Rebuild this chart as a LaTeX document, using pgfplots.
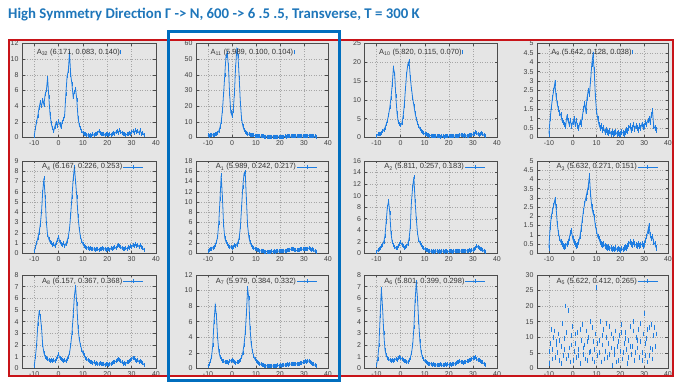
\documentclass[border=0pt]{standalone}
\usepackage{fontspec}
\setmainfont{Liberation Sans}
\newfontfamily\titlefont{Carlito}
\usepackage{pgfplots}
\pgfplotsset{compat=1.18}
\definecolor{dat}{RGB}{30,125,225}
\definecolor{bggray}{RGB}{229,229,229}
\definecolor{titleblue}{RGB}{30,118,186}
\definecolor{redbox}{RGB}{200,20,25}
\definecolor{bluebox}{RGB}{0,110,190}
\pgfplotsset{
  panel/.style={
    scale only axis, anchor=south west,
    xmin=-15, xmax=40, xtick={-10,0,10,20,30,40}, ymin=0,
    grid=major,
    major grid style={dash pattern=on 1pt off 1.5pt, color=black!35, line width=0.35pt},
    axis line style={black!70, line width=0.5pt},
    tick style={black!70, line width=0.4pt},
    major tick length=2.5pt, tick align=inside,
    ticklabel style={font=\fontsize{7}{8}\selectfont, text=black!75},
    /pgf/number format/assume math mode=true,
    xticklabel style={yshift=0.5pt},
    legend plot pos=right,
    legend style={draw=none, fill=none, inner sep=0pt, font=\fontsize{7.5}{8}\selectfont, text=black!80,
      legend cell align=left, nodes={inner sep=0.5pt}, /tikz/every even column/.append style={column sep=3pt}},
  },
  toprow/.style={legend style={at={(rel axis cs:0.105,0.905)}, anchor=west},
    legend image code/.code={\draw[dat, line width=0.5pt] (12pt,-2pt) -- (12pt,2pt);}},
  lowrow/.style={legend style={at={(rel axis cs:0.145,0.935)}, anchor=west},
    legend image code/.code={\draw[dat, line width=0.6pt] (0pt,0pt) -- (20pt,0pt); \draw[dat, line width=0.5pt] (10pt,-1.8pt) -- (10pt,1.8pt);}},
  spec/.style={dat, line width=0.8pt, mark=|, mark size=2pt, mark options={line width=0.45pt}},
  specn/.style={dat, line width=0.8pt, mark=|, mark size=2.8pt, mark options={line width=0.45pt}},
}
\begin{document}
\begin{tikzpicture}[x=1pt,y=1pt]
\path[use as bounding box] (0pt,0pt) rectangle (681pt,383pt);
\fill[bggray] (9pt,7pt) rectangle (673pt,343pt);
\node[anchor=base west, inner sep=0pt, text=titleblue, font=\titlefont\bfseries\fontsize{14.8}{17}\selectfont] at (8pt,364pt) {High Symmetry Direction Γ -> N, 600 -> 6 .5 .5, Transverse, T = 300 K};

% ---------------- Row 1 ----------------
\begin{axis}[panel, toprow, at={(22pt,245.5pt)}, width=134pt, height=94pt, ymax=12, ytick={0,2,...,12}]
\addplot[spec] coordinates {(-10,0.2)(-9.5,1.2)(-9,2.0)(-8.5,2.8)(-8,3.8)(-7.5,4.5)(-7,4.0)(-6.5,4.8)(-6,4.2)(-5.5,5.5)(-5,6.0)(-4.5,7.6)(-4,5.2)(-3.5,3.0)(-3,1.8)(-2.5,1.2)(-2,0.8)(-1.5,1.4)(-1,1.9)(-0.5,1.5)(0,2.1)(0.5,1.7)(1,1.3)(1.5,2.0)(2,2.3)(2.5,2.8)(3,5.5)(3.5,7.8)(4,8.5)(4.5,10.8)(5,8.0)(5.5,6.8)(6,5.2)(6.5,5.8)(7,6.2)(7.5,4.8)(8,2.5)(8.5,1.6)(9,1.2)(9.5,0.8)(10,0.6)(10.5,0.5)(11,0.4)(11.5,0.3)(12,0.35)(12.5,0.2)(13,0.3)(13.5,0.25)(14,0.4)(14.5,0.3)(15,0.45)(15.5,0.5)(16,0.6)(16.5,0.8)(17,0.6)(17.5,0.5)(18,0.4)(18.5,0.5)(19,0.3)(19.5,0.4)(20,0.5)(20.5,0.3)(21,0.4)(21.5,0.35)(22,0.5)(22.5,0.6)(23,0.5)(23.5,0.7)(24,0.8)(24.5,0.6)(25,0.9)(25.5,0.7)(26,0.6)(26.5,0.5)(27,0.4)(27.5,0.3)(28,0.4)(28.5,0.5)(29,0.6)(29.5,0.5)(30,0.7)(30.5,0.8)(31,0.6)(31.5,0.9)(32,0.7)(32.5,0.8)(33,0.6)(33.5,0.9)(34,0.5)(34.5,0.6)(35,0.3)};
\addlegendentry{A\textsubscript{32} (6.171, 0.083, 0.140)}
\end{axis}

\begin{axis}[panel, toprow, at={(196pt,245.5pt)}, width=132pt, height=94pt, ymax=60, ytick={0,10,...,60}]
\addplot[spec] coordinates {(-10,1.5)(-9.5,1.2)(-9,1.6)(-8.5,1.3)(-8,1.8)(-7.5,1.5)(-7,2.0)(-6.5,2.5)(-6,3.0)(-5.5,4.2)(-5,6.5)(-4.5,10)(-4,17)(-3.5,28)(-3,40)(-2.5,52)(-2,54)(-1.5,46)(-1,28)(-0.5,16)(0,14)(0.5,17)(1,28)(1.5,45)(2,56)(2.5,52)(3,38)(3.5,22)(4,12)(4.5,7.5)(5,5.0)(5.5,3.8)(6,3.0)(6.5,2.4)(7,2.0)(7.5,1.8)(8,1.5)(8.5,1.4)(9,1.3)(9.5,1.2)(10,1.1)(10.5,1.0)(11,0.9)(11.5,0.8)(12,0.8)(12.5,0.7)(13,0.7)(13.5,0.6)(14,0.6)(14.5,0.5)(15,0.6)(15.5,0.5)(16,0.5)(16.5,0.4)(17,0.5)(17.5,0.5)(18,0.4)(18.5,0.5)(19,0.5)(19.5,0.4)(20,0.5)(20.5,0.6)(21,0.5)(21.5,0.6)(22,0.7)(22.5,0.6)(23,0.7)(23.5,0.8)(24,0.9)(24.5,0.8)(25,1.0)(25.5,0.9)(26,0.8)(26.5,0.9)(27,0.8)(27.5,0.7)(28,0.8)(28.5,0.9)(29,1.0)(29.5,0.9)(30,1.1)(30.5,1.2)(31,1.0)(31.5,1.1)(32,1.2)(32.5,1.0)(33,0.9)(33.5,1.0)(34,0.8)(34.5,0.7)(35,0.6)};
\addlegendentry{A\textsubscript{11} (5.989, 0.100, 0.104)}
\end{axis}

\begin{axis}[panel, toprow, at={(364.5pt,245.5pt)}, width=132.5pt, height=94pt, ymax=25, ytick={0,5,...,25}]
\addplot[spec] coordinates {(-10,0.4)(-9.5,0.8)(-9,1.0)(-8.5,0.9)(-8,1.3)(-7.5,1.6)(-7,2.0)(-6.5,2.6)(-6,3.5)(-5.5,4.5)(-5,6.0)(-4.5,8.0)(-4,10.5)(-3.5,14)(-3,18.5)(-2.5,17)(-2,11)(-1.5,6.5)(-1,4.2)(-0.5,3.5)(0,3.2)(0.5,3.8)(1,5.5)(1.5,8.5)(2,13)(2.5,17)(3,19.5)(3.5,20.3)(4,16)(4.5,13)(5,10.5)(5.5,8.5)(6,6.5)(6.5,5.0)(7,3.8)(7.5,3.0)(8,2.3)(8.5,1.8)(9,1.5)(9.5,1.2)(10,1.0)(10.5,0.8)(11,0.7)(11.5,0.6)(12,0.5)(12.5,0.5)(13,0.4)(13.5,0.4)(14,0.3)(14.5,0.35)(15,0.3)(15.5,0.35)(16,0.3)(16.5,0.25)(17,0.3)(17.5,0.3)(18,0.25)(18.5,0.3)(19,0.35)(19.5,0.3)(20,0.3)(20.5,0.35)(21,0.4)(21.5,0.3)(22,0.35)(22.5,0.4)(23,0.45)(23.5,0.4)(24,0.5)(24.5,0.6)(25,0.7)(25.5,0.6)(26,0.5)(26.5,0.6)(27,0.5)(27.5,0.4)(28,0.5)(28.5,0.6)(29,0.7)(29.5,0.6)(30,0.8)(30.5,1.0)(31,1.4)(31.5,1.2)(32,0.9)(32.5,0.7)(33,0.8)(33.5,1.1)(34,0.9)(34.5,0.6)(35,0.4)};
\addlegendentry{A\textsubscript{10} (5.820, 0.115, 0.070)}
\end{axis}

\begin{axis}[panel, toprow, at={(537pt,245.5pt)}, width=131pt, height=94pt, ymax=5, ytick={0,0.5,...,5}]
\addplot[specn] coordinates {(-10,0.2)(-9.5,1.0)(-9,1.6)(-8.5,2.1)(-8,2.5)(-7.5,2.9)(-7,2.2)(-6.5,1.8)(-6,1.5)(-5.5,1.3)(-5,1.2)(-4.5,0.9)(-4,0.8)(-3.5,0.7)(-3,0.6)(-2.5,1.1)(-2,0.9)(-1.5,0.7)(-1,0.9)(-0.5,0.6)(0,0.8)(0.5,1.0)(1,0.7)(1.5,0.9)(2,0.6)(2.5,0.5)(3,0.8)(3.5,0.7)(4,1.1)(4.5,1.5)(5,1.8)(5.5,1.4)(6,2.1)(6.5,2.5)(7,2.3)(7.5,3.0)(8,3.9)(8.5,4.4)(9,3.6)(9.5,2.2)(10,1.4)(10.5,1.0)(11,0.7)(11.5,0.5)(12,0.6)(12.5,0.4)(13,0.5)(13.5,0.3)(14,0.4)(14.5,0.3)(15,0.25)(15.5,0.35)(16,0.2)(16.5,0.3)(17,0.2)(17.5,0.25)(18,0.3)(18.5,0.2)(19,0.25)(19.5,0.15)(20,0.2)(20.5,0.3)(21,0.25)(21.5,0.2)(22,0.3)(22.5,0.4)(23,0.35)(23.5,0.5)(24,0.6)(24.5,0.4)(25,0.5)(25.5,0.7)(26,0.45)(26.5,0.6)(27,0.5)(27.5,0.4)(28,0.6)(28.5,0.5)(29,0.7)(29.5,0.55)(30,0.6)(30.5,0.8)(31,0.7)(31.5,0.9)(32,1.0)(32.5,0.8)(33,1.2)(33.5,1.4)(34,0.6)(34.5,0.5)(35,0.4)};
\addlegendentry{A\textsubscript{9} (5.642, 0.128, 0.038)}
\end{axis}

% ---------------- Row 2 ----------------
\begin{axis}[panel, lowrow, at={(22pt,129.7pt)}, width=134pt, height=92.3pt, ymax=9, ytick={0,1,...,9}]
\addplot[spec] coordinates {(-10,0.2)(-9.5,0.6)(-9,1.0)(-8.5,1.5)(-8,2.0)(-7.5,2.8)(-7,4.0)(-6.5,6.0)(-6,7.3)(-5.5,5.5)(-5,3.0)(-4.5,1.8)(-4,1.4)(-3.5,1.1)(-3,1.0)(-2.5,0.8)(-2,0.9)(-1.5,0.7)(-1,1.0)(-0.5,1.3)(0,1.6)(0.5,1.1)(1,0.9)(1.5,0.8)(2,1.0)(2.5,0.7)(3,0.9)(3.5,1.2)(4,1.6)(4.5,2.4)(5,3.8)(5.5,5.5)(6,7.2)(6.5,8.4)(7,7.0)(7.5,5.5)(8,3.6)(8.5,2.4)(9,1.6)(9.5,1.2)(10,0.9)(10.5,0.7)(11,0.6)(11.5,0.5)(12,0.55)(12.5,0.45)(13,0.5)(13.5,0.4)(14,0.45)(14.5,0.4)(15,0.35)(15.5,0.45)(16,0.4)(16.5,0.35)(17,0.45)(17.5,0.4)(18,0.5)(18.5,0.4)(19,0.45)(19.5,0.35)(20,0.4)(20.5,0.45)(21,0.35)(21.5,0.5)(22,0.45)(22.5,0.55)(23,0.6)(23.5,0.5)(24,0.7)(24.5,0.8)(25,0.75)(25.5,0.6)(26,0.5)(26.5,0.45)(27,0.4)(27.5,0.5)(28,0.45)(28.5,0.6)(29,0.55)(29.5,0.7)(30,0.6)(30.5,0.8)(31,0.7)(31.5,0.9)(32,0.75)(32.5,0.8)(33,0.65)(33.5,0.8)(34,0.6)(34.5,0.5)(35,0.35)};
\addlegendentry{A\textsubscript{4} (6.167, 0.226, 0.253)}
\end{axis}

\begin{axis}[panel, lowrow, at={(196pt,129.7pt)}, width=132pt, height=92.3pt, ymax=18, ytick={0,2,...,18}]
\addplot[spec] coordinates {(-10,0.5)(-9.5,0.6)(-9,0.8)(-8.5,0.9)(-8,1.1)(-7.5,1.3)(-7,1.6)(-6.5,2.2)(-6,3.2)(-5.5,6.0)(-5,10.5)(-4.5,15.2)(-4,11)(-3.5,5.5)(-3,3.0)(-2.5,2.2)(-2,1.8)(-1.5,1.5)(-1,1.3)(-0.5,1.2)(0,1.0)(0.5,1.3)(1,1.6)(1.5,1.4)(2,1.7)(2.5,2.2)(3,3.0)(3.5,5.2)(4,9.0)(4.5,13)(5,15.5)(5.5,15.8)(6,10.5)(6.5,5.5)(7,3.2)(7.5,2.2)(8,1.6)(8.5,1.3)(9,1.1)(9.5,0.9)(10,0.8)(10.5,0.7)(11,0.6)(11.5,0.5)(12,0.5)(12.5,0.4)(13,0.4)(13.5,0.35)(14,0.3)(14.5,0.35)(15,0.3)(15.5,0.35)(16,0.3)(16.5,0.4)(17,0.35)(17.5,0.4)(18,0.35)(18.5,0.4)(19,0.45)(19.5,0.4)(20,0.5)(20.5,0.45)(21,0.4)(21.5,0.5)(22,0.45)(22.5,0.5)(23,0.55)(23.5,0.6)(24,0.7)(24.5,0.8)(25,0.9)(25.5,0.8)(26,0.7)(26.5,0.6)(27,0.55)(27.5,0.6)(28,0.7)(28.5,0.8)(29,0.75)(29.5,0.8)(30,0.9)(30.5,0.85)(31,0.8)(31.5,0.9)(32,1.0)(32.5,0.8)(33,0.7)(33.5,0.9)(34,0.6)(34.5,0.4)(35,0.3)};
\addlegendentry{A\textsubscript{1} (5.989, 0.242, 0.217)}
\end{axis}

\begin{axis}[panel, lowrow, at={(364.5pt,129.7pt)}, width=132.5pt, height=92.3pt, ymax=16, ytick={0,2,...,16}]
\addplot[spec] coordinates {(-10,0.3)(-9.5,0.5)(-9,0.8)(-8.5,1.0)(-8,1.2)(-7.5,1.5)(-7,2.0)(-6.5,3.0)(-6,5.5)(-5.5,8.0)(-5,9.0)(-4.5,7.0)(-4,3.5)(-3.5,2.0)(-3,1.5)(-2.5,1.1)(-2,0.9)(-1.5,1.0)(-1,1.3)(-0.5,1.6)(0,1.9)(0.5,1.5)(1,1.3)(1.5,1.0)(2,1.1)(2.5,1.3)(3,1.6)(3.5,2.5)(4,4.5)(4.5,9.0)(5,11.5)(5.5,13.2)(6,9.0)(6.5,6.0)(7,3.5)(7.5,2.3)(8,1.8)(8.5,1.4)(9,1.1)(9.5,0.9)(10,0.7)(10.5,0.6)(11,0.5)(11.5,0.4)(12,0.4)(12.5,0.35)(13,0.3)(13.5,0.35)(14,0.3)(14.5,0.4)(15,0.35)(15.5,0.3)(16,0.35)(16.5,0.3)(17,0.4)(17.5,0.35)(18,0.3)(18.5,0.35)(19,0.4)(19.5,0.3)(20,0.35)(20.5,0.4)(21,0.35)(21.5,0.3)(22,0.4)(22.5,0.35)(23,0.4)(23.5,0.45)(24,0.4)(24.5,0.35)(25,0.4)(25.5,0.45)(26,0.4)(26.5,0.35)(27,0.4)(27.5,0.45)(28,0.4)(28.5,0.5)(29,0.45)(29.5,0.5)(30,0.55)(30.5,0.7)(31,1.0)(31.5,1.3)(32,1.1)(32.5,0.9)(33,0.8)(33.5,0.7)(34,0.6)(34.5,0.4)(35,0.3)};
\addlegendentry{A\textsubscript{2} (5.811, 0.257, 0.183)}
\end{axis}

\begin{axis}[panel, lowrow, at={(537pt,129.7pt)}, width=131pt, height=92.3pt, ymax=5, ytick={0,0.5,...,5}]
\addplot[specn] coordinates {(-10,0.3)(-9.5,1.4)(-9,2.0)(-8.5,2.3)(-8,2.6)(-7.5,2.9)(-7,2.5)(-6.5,1.6)(-6,1.1)(-5.5,0.8)(-5,0.6)(-4.5,0.5)(-4,0.4)(-3.5,0.35)(-3,0.4)(-2.5,0.5)(-2,0.6)(-1.5,0.8)(-1,1.1)(-0.5,1.2)(0,0.8)(0.5,0.6)(1,0.5)(1.5,0.4)(2,0.45)(2.5,0.6)(3,0.9)(3.5,1.3)(4,1.8)(4.5,2.3)(5,2.7)(5.5,3.0)(6,3.3)(6.5,3.6)(7,4.2)(7.5,3.2)(8,2.5)(8.5,2.2)(9,2.0)(9.5,1.5)(10,1.2)(10.5,0.9)(11,0.8)(11.5,0.6)(12,0.5)(12.5,0.45)(13,0.5)(13.5,0.4)(14,0.35)(14.5,0.3)(15,0.35)(15.5,0.25)(16,0.3)(16.5,0.2)(17,0.25)(17.5,0.2)(18,0.3)(18.5,0.2)(19,0.25)(19.5,0.2)(20,0.15)(20.5,0.25)(21,0.2)(21.5,0.3)(22,0.35)(22.5,0.3)(23,0.4)(23.5,0.5)(24,0.6)(24.5,0.5)(25,0.45)(25.5,0.6)(26,0.5)(26.5,0.45)(27,0.4)(27.5,0.5)(28,0.4)(28.5,0.45)(29,0.5)(29.5,0.4)(30,0.5)(30.5,0.7)(31,0.9)(31.5,1.2)(32,1.5)(32.5,1.0)(33,0.8)(33.5,0.9)(34,0.6)(34.5,0.5)(35,0.3)};
\addlegendentry{A\textsubscript{3} (5.632, 0.271, 0.151)}
\end{axis}

% ---------------- Row 3 ----------------
\begin{axis}[panel, lowrow, at={(22pt,14.7pt)}, width=134pt, height=93.3pt, ymax=8, ytick={0,1,...,8}]
\addplot[spec] coordinates {(-10,0.2)(-9.5,1.0)(-9,2.0)(-8.5,3.8)(-8,4.8)(-7.5,4.5)(-7,3.5)(-6.5,2.0)(-6,1.3)(-5.5,1.0)(-5,0.9)(-4.5,0.8)(-4,0.7)(-3.5,0.6)(-3,0.7)(-2.5,0.6)(-2,0.7)(-1.5,0.6)(-1,0.8)(-0.5,1.0)(0,1.2)(0.5,0.9)(1,0.8)(1.5,0.7)(2,0.6)(2.5,0.7)(3,0.6)(3.5,0.8)(4,1.0)(4.5,1.3)(5,2.0)(5.5,3.0)(6,4.5)(6.5,6.2)(7,7.0)(7.5,5.5)(8,3.5)(8.5,2.5)(9,2.0)(9.5,1.6)(10,1.3)(10.5,1.1)(11,0.9)(11.5,0.8)(12,0.7)(12.5,0.6)(13,0.55)(13.5,0.5)(14,0.45)(14.5,0.5)(15,0.4)(15.5,0.45)(16,0.4)(16.5,0.35)(17,0.45)(17.5,0.4)(18,0.35)(18.5,0.4)(19,0.3)(19.5,0.35)(20,0.4)(20.5,0.3)(21,0.35)(21.5,0.4)(22,0.45)(22.5,0.5)(23,0.55)(23.5,0.6)(24,0.7)(24.5,0.8)(25,0.75)(25.5,0.6)(26,0.5)(26.5,0.4)(27,0.45)(27.5,0.4)(28,0.5)(28.5,0.55)(29,0.6)(29.5,0.7)(30,0.8)(30.5,0.9)(31,0.85)(31.5,0.7)(32,0.6)(32.5,0.7)(33,0.55)(33.5,0.6)(34,0.5)(34.5,0.45)(35,0.3)};
\addlegendentry{A\textsubscript{8} (6.157, 0.367, 0.368)}
\end{axis}

\begin{axis}[panel, lowrow, at={(196pt,14.7pt)}, width=132pt, height=93.3pt, ymax=12, ytick={0,2,...,12}]
\addplot[spec] coordinates {(-10,0.3)(-9.5,0.5)(-9,0.9)(-8.5,1.5)(-8,3.0)(-7.5,6.0)(-7,8.0)(-6.5,6.8)(-6,4.0)(-5.5,2.2)(-5,1.5)(-4.5,1.2)(-4,1.0)(-3.5,0.9)(-3,0.8)(-2.5,0.75)(-2,0.8)(-1.5,0.7)(-1,0.9)(-0.5,1.0)(0,1.1)(0.5,0.9)(1,0.8)(1.5,0.7)(2,0.75)(2.5,0.8)(3,0.9)(3.5,1.1)(4,1.4)(4.5,2.0)(5,3.0)(5.5,4.5)(6,7.0)(6.5,10.3)(7,9.0)(7.5,5.2)(8,3.2)(8.5,2.2)(9,1.6)(9.5,1.2)(10,1.0)(10.5,0.8)(11,0.7)(11.5,0.6)(12,0.5)(12.5,0.45)(13,0.4)(13.5,0.35)(14,0.3)(14.5,0.35)(15,0.3)(15.5,0.3)(16,0.25)(16.5,0.3)(17,0.3)(17.5,0.35)(18,0.3)(18.5,0.35)(19,0.4)(19.5,0.35)(20,0.4)(20.5,0.35)(21,0.4)(21.5,0.45)(22,0.4)(22.5,0.45)(23,0.5)(23.5,0.45)(24,0.5)(24.5,0.55)(25,0.6)(25.5,0.5)(26,0.55)(26.5,0.5)(27,0.6)(27.5,0.55)(28,0.6)(28.5,0.7)(29,0.65)(29.5,0.75)(30,0.8)(30.5,0.9)(31,0.85)(31.5,1.0)(32,0.9)(32.5,0.8)(33,0.7)(33.5,0.6)(34,0.5)(34.5,0.4)(35,0.3)};
\addlegendentry{A\textsubscript{7} (5.979, 0.384, 0.332)}
\end{axis}

\begin{axis}[panel, lowrow, at={(364.5pt,14.7pt)}, width=132.5pt, height=93.3pt, ymax=8, ytick={0,1,...,8}]
\addplot[spec] coordinates {(-10,0.3)(-9.5,0.8)(-9,2.0)(-8.5,4.5)(-8,6.8)(-7.5,5.2)(-7,3.0)(-6.5,1.6)(-6,1.1)(-5.5,0.9)(-5,0.8)(-4.5,0.7)(-4,0.6)(-3.5,0.7)(-3,0.6)(-2.5,0.7)(-2,0.8)(-1.5,0.7)(-1,0.9)(-0.5,1.0)(0,0.9)(0.5,0.8)(1,0.7)(1.5,0.6)(2,0.6)(2.5,0.5)(3,0.55)(3.5,0.7)(4,0.9)(4.5,1.3)(5,2.0)(5.5,3.5)(6,5.8)(6.5,7.4)(7,6.0)(7.5,4.0)(8,2.3)(8.5,1.4)(9,1.0)(9.5,0.8)(10,0.6)(10.5,0.5)(11,0.45)(11.5,0.4)(12,0.35)(12.5,0.4)(13,0.3)(13.5,0.35)(14,0.3)(14.5,0.25)(15,0.3)(15.5,0.25)(16,0.3)(16.5,0.35)(17,0.3)(17.5,0.25)(18,0.3)(18.5,0.35)(19,0.3)(19.5,0.35)(20,0.3)(20.5,0.35)(21,0.3)(21.5,0.4)(22,0.35)(22.5,0.4)(23,0.45)(23.5,0.5)(24,0.55)(24.5,0.6)(25,0.55)(25.5,0.5)(26,0.45)(26.5,0.5)(27,0.55)(27.5,0.6)(28,0.65)(28.5,0.7)(29,0.75)(29.5,0.8)(30,0.85)(30.5,0.9)(31,0.95)(31.5,0.8)(32,0.7)(32.5,0.75)(33,0.6)(33.5,0.55)(34,0.5)(34.5,0.4)(35,0.3)};
\addlegendentry{A\textsubscript{6} (5.801, 0.399, 0.298)}
\end{axis}

\begin{axis}[panel, lowrow, at={(537pt,14.7pt)}, width=131pt, height=93.3pt, ymax=30, ytick={0,5,...,30}]
\addplot[dat, only marks, mark=|, mark size=2.4pt, mark options={line width=0.55pt}] coordinates {(-10,1.5)(-9.5,8.0)(-9,12.5)(-8.5,6.0)(-8,10.0)(-7.5,3.5)(-7,8.5)(-6.5,5.0)(-6,11.0)(-5.5,2.5)(-5,7.0)(-4.5,14.5)(-4,4.0)(-3.5,9.5)(-3,20.0)(-2.5,3.0)(-2,18.5)(-1.5,6.5)(-1,2.0)(-0.5,10.5)(0,13.5)(0.5,5.5)(1,8.0)(1.5,3.5)(2,11.5)(2.5,6.0)(3,1.5)(3.5,9.0)(4,14.0)(4.5,4.5)(5,7.5)(5.5,12.0)(6,2.5)(6.5,10.0)(7,5.0)(7.5,15.0)(8,3.0)(8.5,8.5)(9,6.0)(9.5,11.0)(10,26.0)(10.5,4.0)(11,9.0)(11.5,15.0)(12,2.0)(12.5,7.5)(13,12.5)(13.5,5.5)(14,10.0)(14.5,3.5)(15,8.0)(15.5,13.5)(16,6.5)(16.5,1.0)(17,9.5)(17.5,4.5)(18,12.0)(18.5,7.0)(19,2.5)(19.5,10.5)(20,5.5)(20.5,14.0)(21,3.0)(21.5,8.0)(22,11.5)(22.5,6.0)(23,1.5)(23.5,9.0)(24,13.5)(24.5,4.5)(25,7.0)(25.5,15.0)(26,2.5)(26.5,10.0)(27,6.5)(27.5,12.5)(28,3.5)(28.5,8.5)(29,5.0)(29.5,11.0)(30,17.5)(30.5,4.0)(31,9.5)(31.5,2.0)(32,13.0)(32.5,6.5)(33,14.0)(33.5,3.0)(34,10.5)(34.5,7.0)(35,11.0)
(-9.75,5.5)(-8.75,3.0)(-7.75,12.0)(-6.75,7.5)(-5.75,9.0)(-4.75,1.5)(-3.75,6.0)(-2.75,11.5)(-1.75,4.0)(-0.75,7.5)(0.25,2.5)(1.25,11.0)(2.25,4.0)(3.25,12.5)(4.25,6.5)(5.25,3.0)(6.25,8.5)(7.25,5.5)(8.25,13.0)(9.25,2.0)(10.25,8.0)(11.25,5.0)(12.25,10.5)(13.25,3.0)(14.25,14.5)(15.25,4.5)(16.25,11.0)(17.25,6.0)(18.25,2.0)(19.25,8.5)(20.25,11.5)(21.25,5.0)(22.25,9.5)(23.25,3.5)(24.25,7.0)(25.25,12.0)(26.25,5.0)(27.25,9.0)(28.25,14.5)(29.25,2.5)(30.25,8.0)(31.25,12.5)(32.25,4.0)(33.25,6.0)(34.25,13.0)};
\addlegendentry{A\textsubscript{5} (5.622, 0.412, 0.265)}
\end{axis}

\draw[redbox, line width=2pt] (9pt,7pt) rectangle (673pt,343pt);
\draw[bluebox, line width=3pt] (168.5pt,2.5pt) rectangle (339.5pt,351.5pt);
\end{tikzpicture}
\end{document}
